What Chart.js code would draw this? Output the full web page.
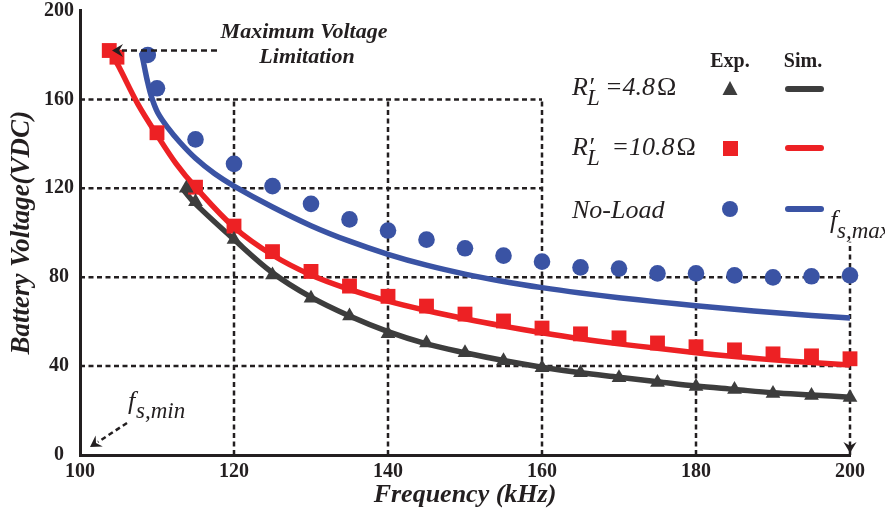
<!DOCTYPE html>
<html lang="en">
<head>
<meta charset="UTF-8">
<title>Battery Voltage vs Frequency</title>
<script src="https://cdn.jsdelivr.net/npm/chart.js"></script>
<style>
    body, html {
        margin: 0;
        padding: 0;
        background: #ffffff;
    }
    #chart {
        display: block;
    }
</style>
</head>
<body>
<canvas id="chart" width="885" height="518"></canvas>
<script>
    // Measured points (Exp.)
    const expFreq48 = [113.8, 115, 120, 125, 130, 135, 140, 145, 150, 155, 160, 165, 170, 175, 180, 185, 190, 195, 200];
    const expVolt48 = [120, 114, 97, 81, 70.5, 62.5, 54.5, 50.4, 46, 42.4, 39.3, 37, 34.8, 32.6, 30.8, 29.5, 27.7, 26.8, 25.9];

    const expFreq108 = [103.8, 104.8, 110, 115, 120, 125, 130, 135, 140, 145, 150, 155, 160, 165, 170, 175, 180, 185, 190, 195, 200];
    const expVolt108 = [182, 179, 145, 120.5, 103, 91.5, 82.6, 76, 71.4, 67, 63.4, 60.3, 57.1, 54.5, 52.7, 50.4, 48.7, 47.3, 45.5, 44.6, 43.3];

    const expFreqNL = [108.8, 110, 115, 120, 125, 130, 135, 140, 145, 150, 155, 160, 165, 170, 175, 180, 185, 190, 195, 200];
    const expVoltNL = [180, 165, 142, 131, 121, 113, 106, 101, 96.9, 93, 89.7, 87, 84.4, 83.9, 81.7, 81.7, 80.8, 79.9, 80.4, 80.8];

    // Simulated curves (Sim.)
    const simFreq48 = [113.5, 115, 120, 125, 130, 135, 140, 145, 150, 155, 160, 165, 170, 175, 180, 185, 190, 195, 200];
    const simVolt48 = [119, 113, 97, 82, 71, 62.5, 55.5, 50, 46, 42.5, 39.5, 37, 35, 33, 31, 29.5, 28, 27, 26];

    const simFreq108 = [103.7, 105, 107.5, 110, 112.5, 115, 120, 125, 130, 135, 140, 145, 150, 155, 160, 165, 170, 175, 180, 185, 190, 195, 200];
    const simVolt108 = [183, 175, 158, 144, 131, 120.5, 102.5, 90, 81, 74.5, 69.2, 65, 61.3, 58, 55, 52.3, 50, 48, 46, 44.3, 42.8, 41.6, 40.5];

    const simFreqNL = [108, 108.4, 108.8, 109.3, 110.1, 111.4, 113, 115, 117.5, 120, 125, 130, 135, 140, 145, 150, 155, 160, 165, 170, 175, 180, 185, 190, 195, 200];
    const simVoltNL = [181, 174, 167.5, 161, 154, 147.3, 140.6, 133.5, 126.5, 121, 111.6, 103.2, 96.2, 90.3, 85.4, 81.4, 78.1, 75.3, 72.9, 70.8, 68.9, 67.2, 65.6, 64.1, 62.8, 61.6];

    const xTicks = [100, 120, 140, 160, 180, 200];
    const yTicks = [0, 40, 80, 120, 160, 200];

    const BLACK = '#3d3d3d';
    const RED = '#ed2124';
    const BLUE = '#3a53a4';
    const INK = '#231f20';
    const SERIF = '"Liberation Serif", "Times New Roman", serif';

    const toPoints = (xs, ys) => xs.map((x, i) => ({ x: x, y: ys[i] }));

    // dashed reference grid, only partly spanning the plot
    const dashedGrid = {
        id: 'dashedGrid',
        beforeDatasetsDraw(chart) {
            const { ctx, scales: { x, y } } = chart;
            const segs = [
                [100, 160, 160, 160], [100, 120, 160, 120],
                [100, 80, 200, 80], [100, 40, 200, 40],
                [120, 0, 120, 160], [140, 0, 140, 160], [160, 0, 160, 160],
                [180, 0, 180, 80], [200, 0, 200, 96]
            ];
            ctx.save();
            ctx.strokeStyle = INK;
            ctx.lineWidth = 2.5;
            ctx.setLineDash([5, 3.5]);
            segs.forEach(s => {
                ctx.beginPath();
                ctx.moveTo(x.getPixelForValue(s[0]), y.getPixelForValue(s[1]));
                ctx.lineTo(x.getPixelForValue(s[2]), y.getPixelForValue(s[3]));
                ctx.stroke();
            });
            ctx.restore();
        }
    };

    function drawRLabel(ctx, x, base, value) {
        ctx.font = 'italic 26px ' + SERIF;
        ctx.fillText('R\u2032', x, base);
        ctx.font = 'italic 23px ' + SERIF;
        ctx.fillText('L', x + 15, base + 10);
        ctx.font = 'italic 26px ' + SERIF;
        ctx.fillText(value, x + 33, base);
        const w = ctx.measureText(value).width;
        ctx.font = '26px ' + SERIF;
        ctx.fillText('\u03A9', x + 35 + w, base);
    }

    function arrowHead(ctx, tipX, tipY, angle, size) {
        ctx.save();
        ctx.translate(tipX, tipY);
        ctx.rotate(angle);
        ctx.beginPath();
        ctx.moveTo(0, 0);
        ctx.lineTo(-size, -size * 0.6);
        ctx.lineTo(-size * 0.65, 0);
        ctx.lineTo(-size, size * 0.6);
        ctx.closePath();
        ctx.fill();
        ctx.restore();
    }

    // legend table and annotations
    const overlay = {
        id: 'overlay',
        afterDraw(chart) {
            const { ctx, scales: { x, y } } = chart;
            ctx.save();
            ctx.fillStyle = INK;
            ctx.textBaseline = 'alphabetic';

            ctx.textAlign = 'center';
            ctx.font = 'bold 20px ' + SERIF;
            ctx.fillText('Exp.', 730, 67);
            ctx.fillText('Sim.', 803, 67);

            ctx.textAlign = 'left';
            drawRLabel(ctx, 572, 95, '=4.8');
            drawRLabel(ctx, 572, 155, ' =10.8');
            ctx.font = 'italic 26px ' + SERIF;
            ctx.fillText('No-Load', 572, 218);

            // legend markers
            ctx.fillStyle = BLACK;
            ctx.beginPath();
            ctx.moveTo(730, 81);
            ctx.lineTo(737.5, 95);
            ctx.lineTo(722.5, 95);
            ctx.closePath();
            ctx.fill();
            ctx.fillStyle = RED;
            ctx.fillRect(723, 141, 15, 15);
            ctx.fillStyle = BLUE;
            ctx.beginPath();
            ctx.arc(730, 209, 8, 0, Math.PI * 2);
            ctx.fill();

            ctx.lineCap = 'round';
            ctx.lineWidth = 6;
            [[BLACK, 89], [RED, 148], [BLUE, 209]].forEach(([c, ly]) => {
                ctx.strokeStyle = c;
                ctx.beginPath();
                ctx.moveTo(788, ly);
                ctx.lineTo(821, ly);
                ctx.stroke();
            });

            // maximum voltage note
            ctx.fillStyle = INK;
            ctx.strokeStyle = INK;
            ctx.textAlign = 'center';
            ctx.font = 'bold italic 22px ' + SERIF;
            ctx.fillText('Maximum Voltage', 304, 38);
            ctx.fillText('Limitation', 307, 63);

            const ay = y.getPixelForValue(182);
            ctx.lineCap = 'butt';
            ctx.lineWidth = 2.5;
            ctx.setLineDash([6, 4]);
            ctx.beginPath();
            ctx.moveTo(217, ay);
            ctx.lineTo(122, ay);
            ctx.stroke();
            ctx.setLineDash([]);
            arrowHead(ctx, 112, ay, Math.PI, 11);

            // f_s,min
            ctx.textAlign = 'left';
            ctx.font = 'italic 26px ' + SERIF;
            ctx.fillText('f', 128, 409);
            ctx.font = 'italic 23px ' + SERIF;
            ctx.fillText('s,min', 136, 418);
            ctx.setLineDash([5, 3.5]);
            ctx.beginPath();
            ctx.moveTo(127, 423);
            ctx.lineTo(98, 442);
            ctx.stroke();
            ctx.setLineDash([]);
            arrowHead(ctx, 90, 447, Math.atan2(24, -37), 11);

            // f_s,max
            ctx.font = 'italic 26px ' + SERIF;
            ctx.fillText('f', 830, 228);
            ctx.font = 'italic 23px ' + SERIF;
            ctx.fillText('s,max', 837, 238);
            arrowHead(ctx, x.getPixelForValue(200), y.getPixelForValue(0) - 2, Math.PI / 2, 11);

            ctx.restore();
        }
    };

    const simLine = (label, pts, color) => ({
        label: label,
        data: pts,
        showLine: true,
        pointRadius: 0,
        borderColor: color,
        borderWidth: 5.5,
        tension: 0.35,
        order: 1,
        clip: false
    });

    const expMarks = (label, pts, style, r, color) => ({
        label: label,
        data: pts,
        pointStyle: style,
        pointRadius: r,
        backgroundColor: color,
        borderColor: color,
        borderWidth: 0,
        order: 0,
        clip: false
    });

    new Chart(document.getElementById('chart'), {
        type: 'scatter',
        data: {
            datasets: [
                expMarks('Exp. 4.8', toPoints(expFreq48, expVolt48), 'triangle', 8.5, BLACK),
                expMarks('Exp. 10.8', toPoints(expFreq108, expVolt108), 'rect', 10.5, RED),
                expMarks('Exp. no load', toPoints(expFreqNL, expVoltNL), 'circle', 8.3, BLUE),
                simLine('Sim. 4.8', toPoints(simFreq48, simVolt48), BLACK),
                simLine('Sim. 10.8', toPoints(simFreq108, simVolt108), RED),
                simLine('Sim. no load', toPoints(simFreqNL, simVoltNL), BLUE)
            ]
        },
        options: {
            responsive: false,
            animation: false,
            layout: { padding: { top: 7, right: 35, left: 0, bottom: 0 } },
            plugins: {
                legend: { display: false },
                tooltip: { enabled: false }
            },
            scales: {
                x: {
                    type: 'linear',
                    min: xTicks[0],
                    max: xTicks[xTicks.length - 1],
                    afterBuildTicks: s => { s.ticks = xTicks.map(v => ({ value: v })); },
                    afterFit: s => { s.height = 63; },
                    grid: { display: false },
                    border: { display: true, color: INK, width: 3 },
                    ticks: {
                        color: INK,
                        padding: -3,
                        maxRotation: 0,
                        font: { family: SERIF, size: 20, weight: 'bold' }
                    },
                    title: {
                        display: true,
                        text: 'Frequency (kHz)',
                        color: INK,
                        padding: { top: 0, bottom: 7 },
                        font: { family: SERIF, size: 26, weight: 'bold', style: 'italic' }
                    }
                },
                y: {
                    min: yTicks[0],
                    max: yTicks[yTicks.length - 1],
                    afterBuildTicks: s => { s.ticks = yTicks.map(v => ({ value: v })); },
                    afterFit: s => {
                        s.width = 80;
                        s.paddingTop = 0;
                        s.paddingBottom = 0;
                    },
                    grid: { display: false },
                    border: { display: true, color: INK, width: 3 },
                    ticks: {
                        color: INK,
                        padding: -2,
                        crossAlign: 'center',
                        font: { family: SERIF, size: 20, weight: 'bold' }
                    },
                    title: {
                        display: true,
                        text: 'Battery Voltage(VDC)',
                        color: INK,
                        padding: { top: 6, bottom: 0 },
                        font: { family: SERIF, size: 27, weight: 'bold', style: 'italic' }
                    }
                }
            }
        },
        plugins: [dashedGrid, overlay]
    });
</script>
</body>
</html>
